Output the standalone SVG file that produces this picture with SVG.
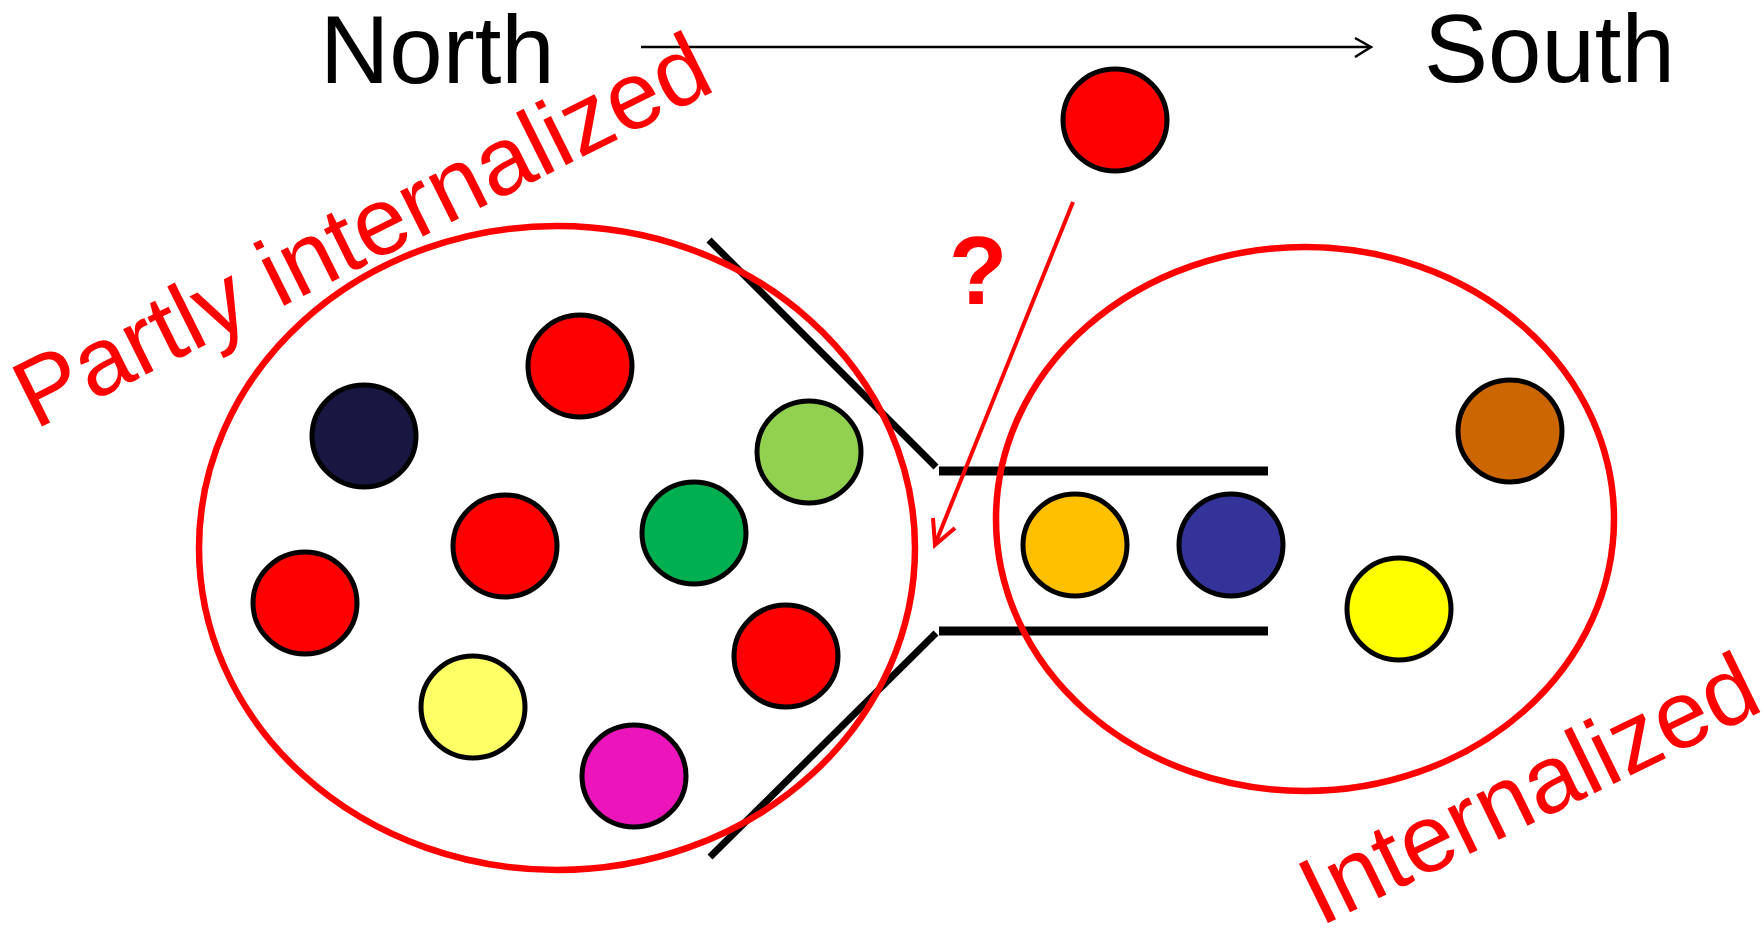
<svg xmlns="http://www.w3.org/2000/svg" width="1764" height="928" viewBox="0 0 1764 928">
<style>
.lbl{font-family:"Liberation Sans",Arial,sans-serif;font-size:96px}
.red{fill:#ff0000}
.ball{stroke:#000;stroke-width:5}
.big{fill:none;stroke:#ff0000;stroke-width:6.5}
.funnel{stroke:#000;fill:none}
</style>
<rect width="1764" height="928" fill="#fff"/>
<g id="funnel">
<line class="funnel" x1="709" y1="240" x2="936" y2="467" stroke-width="7"/>
<line class="funnel" x1="936" y1="633" x2="710" y2="857" stroke-width="7"/>
<line class="funnel" x1="939" y1="471" x2="1268" y2="471" stroke-width="9"/>
<line class="funnel" x1="939" y1="631" x2="1268" y2="631" stroke-width="9"/>
</g>
<g id="balls-left">
<ellipse id="b-navy" class="ball" cx="364" cy="436" rx="52" ry="51" fill="#171741"/>
<ellipse id="b-red1" class="ball" cx="580" cy="366" rx="52" ry="51" fill="#ff0000"/>
<ellipse id="b-lgreen" class="ball" cx="809" cy="452" rx="52" ry="51" fill="#92d050"/>
<ellipse id="b-red2" class="ball" cx="505" cy="546" rx="52" ry="51" fill="#ff0000"/>
<ellipse id="b-green" class="ball" cx="694" cy="533" rx="52" ry="51" fill="#00b050"/>
<ellipse id="b-red3" class="ball" cx="305" cy="603" rx="52" ry="51" fill="#ff0000"/>
<ellipse id="b-red4" class="ball" cx="786" cy="656" rx="52" ry="51" fill="#ff0000"/>
<ellipse id="b-lyellow" class="ball" cx="473" cy="707" rx="52" ry="51" fill="#ffff66"/>
<ellipse id="b-magenta" class="ball" cx="634" cy="776" rx="52" ry="51" fill="#eb15bb"/>
</g>
<g id="balls-right">
<ellipse id="b-orange" class="ball" cx="1075" cy="545" rx="52" ry="51" fill="#ffc000"/>
<ellipse id="b-blue" class="ball" cx="1231" cy="545" rx="52" ry="51" fill="#333399"/>
<ellipse id="b-yellow" class="ball" cx="1399" cy="609" rx="52" ry="51" fill="#ffff00"/>
<ellipse id="b-brown" class="ball" cx="1510" cy="431" rx="52" ry="51" fill="#cc6600"/>
</g>
<g id="b-top">
<ellipse class="ball" cx="1115" cy="120" rx="52" ry="51" fill="#ff0000"/>
</g>
<g id="connectors">
<line x1="641" y1="47" x2="1370" y2="47" stroke="#000" stroke-width="2.5"/>
<polyline points="1355,38 1371,47 1355,57" fill="none" stroke="#000" stroke-width="2.5"/>
<line x1="1073" y1="202" x2="936" y2="542" stroke="#ff0000" stroke-width="4"/>
<polyline points="933,518 935,545 955,528" fill="none" stroke="#ff0000" stroke-width="4"/>
</g>
<g id="group-partly">
<ellipse class="big" cx="557" cy="548" rx="358" ry="322"/>
</g>
<g id="group-internalized">
<ellipse class="big" cx="1305" cy="519" rx="309" ry="272"/>
</g>
<g id="labels">
<text class="lbl" x="320" y="83" fill="#000">North</text>
<text class="lbl" x="1424" y="82" fill="#000">South</text>
<text class="lbl red" x="978" y="304" text-anchor="middle" font-weight="bold">?</text>
<text class="lbl red" transform="translate(35,430) rotate(-26.5)">Partly internalized</text>
<text class="lbl red" transform="translate(1320,927) rotate(-26)">Internalized</text>
</g>
</svg>
